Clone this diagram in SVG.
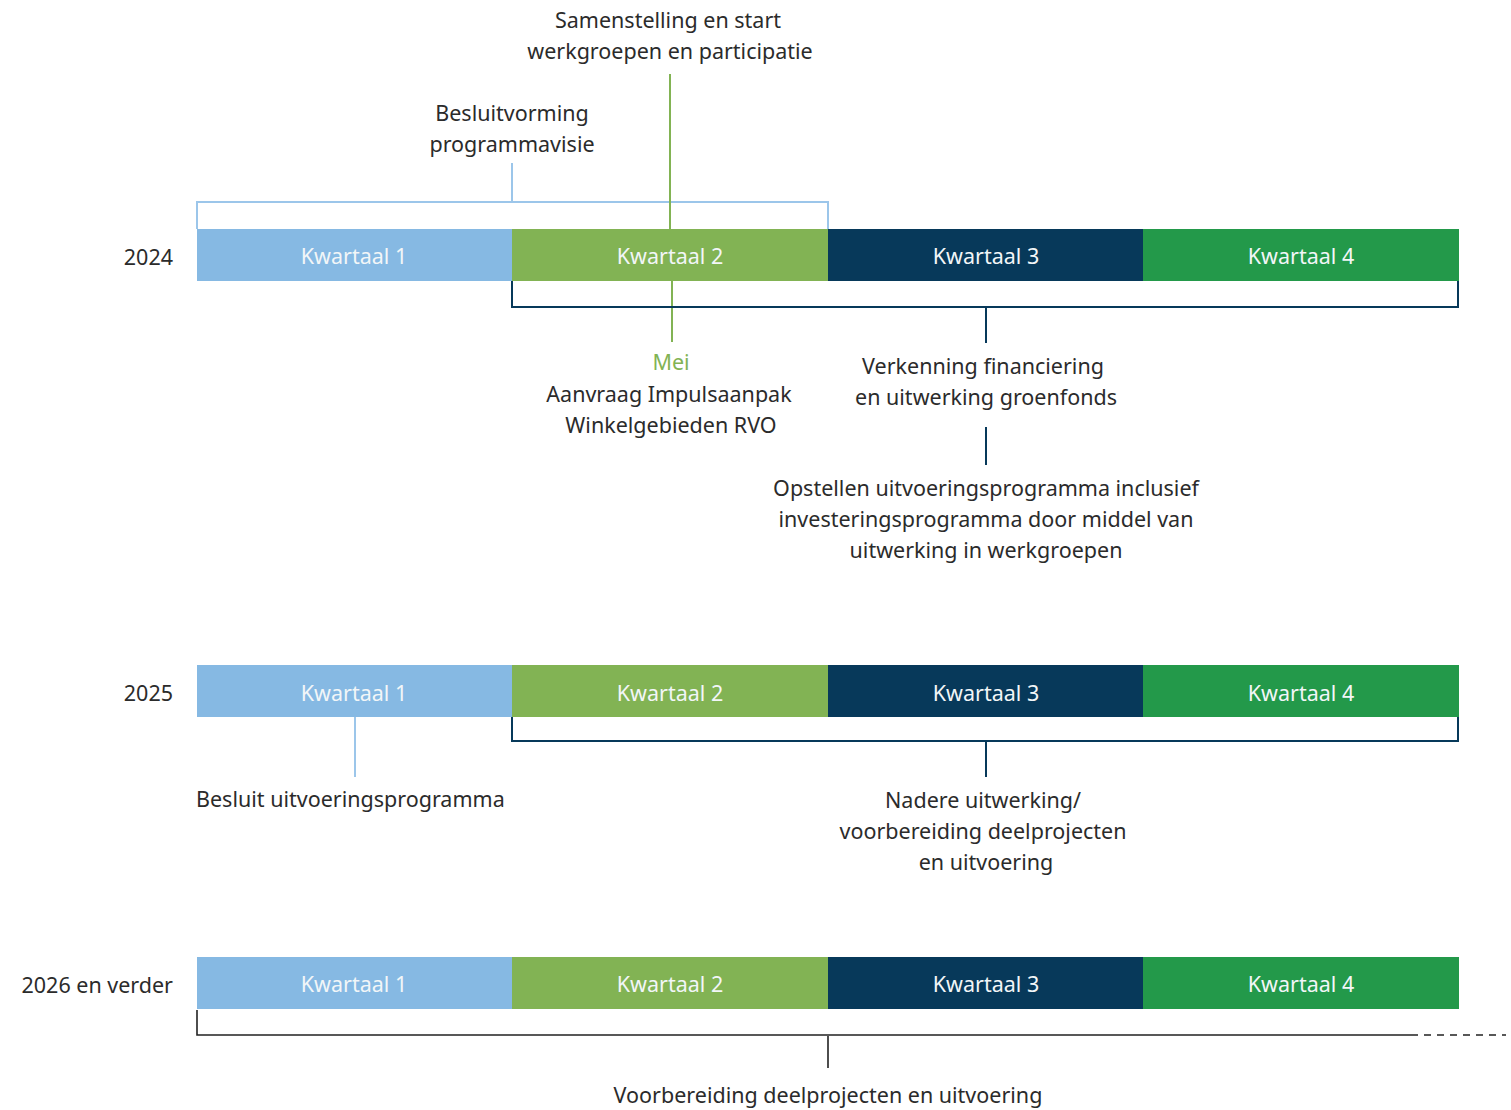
<svg xmlns="http://www.w3.org/2000/svg" width="1511" height="1110" viewBox="0 0 1511 1110">
<style>
text{font-family:"Noto Sans","Open Sans","Liberation Sans",sans-serif;font-size:21.5px;fill:#2b2b2b;}
.c{text-anchor:middle;}
.r{text-anchor:end;}
.q{fill:#f2f6f8;text-anchor:middle;}
.q1{fill:#86b9e3}.q2{fill:#82b354}.q3{fill:#07395a}.q4{fill:#23994a}
.lb{stroke:#9cc6ea;stroke-width:2;fill:none}
.lg{stroke:#82b354;stroke-width:2;fill:none}
.ld{stroke:#07395a;stroke-width:2;fill:none}
.lk{stroke:#222;stroke-width:1.6;fill:none}
</style>
<g id="row2024">
<text class="r" x="173" y="265">2024</text>
<rect class="q1" x="197" y="229" width="315" height="52"/>
<rect class="q2" x="512" y="229" width="316" height="52"/>
<rect class="q3" x="828" y="229" width="315" height="52"/>
<rect class="q4" x="1143" y="229" width="316" height="52"/>
<text class="q" x="354" y="264">Kwartaal 1</text>
<text class="q" x="670" y="264">Kwartaal 2</text>
<text class="q" x="986" y="264">Kwartaal 3</text>
<text class="q" x="1301" y="264">Kwartaal 4</text>
</g>
<g id="row2025">
<text class="r" x="173" y="701">2025</text>
<rect class="q1" x="197" y="665" width="315" height="52"/>
<rect class="q2" x="512" y="665" width="316" height="52"/>
<rect class="q3" x="828" y="665" width="315" height="52"/>
<rect class="q4" x="1143" y="665" width="316" height="52"/>
<text class="q" x="354" y="701">Kwartaal 1</text>
<text class="q" x="670" y="701">Kwartaal 2</text>
<text class="q" x="986" y="701">Kwartaal 3</text>
<text class="q" x="1301" y="701">Kwartaal 4</text>
</g>
<g id="row2026">
<text class="r" x="173" y="993">2026 en verder</text>
<rect class="q1" x="197" y="957" width="315" height="52"/>
<rect class="q2" x="512" y="957" width="316" height="52"/>
<rect class="q3" x="828" y="957" width="315" height="52"/>
<rect class="q4" x="1143" y="957" width="316" height="52"/>
<text class="q" x="354" y="992">Kwartaal 1</text>
<text class="q" x="670" y="992">Kwartaal 2</text>
<text class="q" x="986" y="992">Kwartaal 3</text>
<text class="q" x="1301" y="992">Kwartaal 4</text>
</g>
<g id="connectors">
<path class="lb" d="M197 229 V202 H828 V229 M512 202 V163"/>
<path class="lg" d="M670 74 V229 M672 281 V342"/>
<path class="ld" d="M512 281 V307 H1458 V281 M986 307 V343 M986 427 V465"/>
<path class="lb" d="M355 717 V777"/>
<path class="ld" d="M512 717 V741 H1458 V717 M986 741 V777"/>
<path class="lk" d="M197 1010 V1035 H1418 M828 1036 V1068"/>
<path class="lk" d="M1424 1035 H1506" stroke-dasharray="7 6"/>
</g>
<g id="labels">
<text class="c" x="668" y="28">Samenstelling en start</text>
<text class="c" x="670" y="59">werkgroepen en participatie</text>
<text class="c" x="512" y="121">Besluitvorming</text>
<text class="c" x="512" y="152">programmavisie</text>
<text class="c" x="671" y="370" style="fill:#82b354">Mei</text>
<text class="c" x="669" y="402">Aanvraag Impulsaanpak</text>
<text class="c" x="671" y="433">Winkelgebieden RVO</text>
<text class="c" x="983" y="374">Verkenning financiering</text>
<text class="c" x="986" y="405">en uitwerking groenfonds</text>
<text class="c" x="986" y="496">Opstellen uitvoeringsprogramma inclusief</text>
<text class="c" x="986" y="527">investeringsprogramma door middel van</text>
<text class="c" x="986" y="558">uitwerking in werkgroepen</text>
<text x="196" y="807">Besluit uitvoeringsprogramma</text>
<text class="c" x="983" y="808">Nadere uitwerking/</text>
<text class="c" x="983" y="839">voorbereiding deelprojecten</text>
<text class="c" x="986" y="870">en uitvoering</text>
<text class="c" x="828" y="1103">Voorbereiding deelprojecten en uitvoering</text>
</g>
</svg>
